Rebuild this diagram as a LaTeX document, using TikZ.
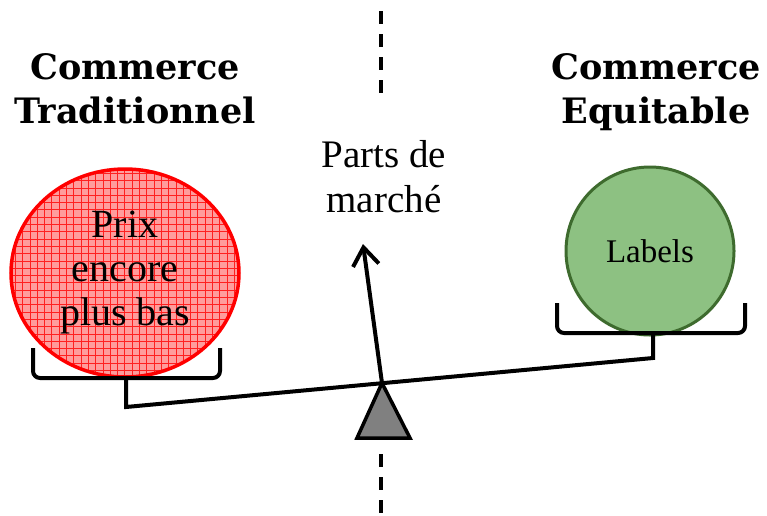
\documentclass[tikz,border=0pt]{standalone}
\usepackage{fontspec}
\newfontfamily\serifT{Liberation Serif}
\newfontfamily\titleT{DejaVu Serif}
\usetikzlibrary{shapes.geometric,arrows.meta}
\definecolor{redfill}{HTML}{FF9C9C}
\definecolor{redgrid}{HTML}{FF2020}
\definecolor{greenfill}{HTML}{8DC182}
\definecolor{greenedge}{HTML}{3E6B2E}
\definecolor{pivotgray}{HTML}{808080}
\begin{document}
\begin{tikzpicture}[x=1pt,y=-1pt,
  title/.style={font=\titleT\bfseries\fontsize{35}{44}\selectfont, align=center, anchor=base, inner sep=0},
  body/.style={font=\serifT\fontsize{40}{44}\selectfont, align=center, inner sep=0},
  beam/.style={line width=4pt, line join=round},
  gridline/.style={redgrid, line width=0.7pt},
  divider/.style={line width=3.3pt, dash pattern=on 13pt off 10pt}]
\useasboundingbox (0,0) rectangle (767,515);

% dashed divider
\coordinate (dt1) at (381,11);
\coordinate (dt2) at (381,95);
\coordinate (db1) at (381,454);
\coordinate (db2) at (381,515);
\draw[divider] (dt1) -- (dt2);
\draw[divider] (db1) -- (db2);

% titles
\node[title] (tl) at (135,123) {Commerce\\Traditionnel};
\node[title] (tr) at (656,123) {Commerce\\Equitable};
\node[body, anchor=base, font=\serifT\fontsize{39}{45}\selectfont] (pm) at (384,212) {Parts de\\marché};

% red ellipse with grid
\coordinate (rc) at (125,273);
\begin{scope}
  \clip (rc) ellipse [x radius=114pt, y radius=104pt];
  \fill[redfill] (0,160) rectangle (250,390);
  \foreach \i in {0,...,33} {
    \draw[gridline] (8+\i*7.3,160) -- (8+\i*7.3,390);
    \draw[gridline] (0,166+\i*7.3) -- (250,166+\i*7.3);
  }
\end{scope}
\node[ellipse, draw=red, line width=3.5pt, minimum width=228, minimum height=208, inner sep=0, body] (red) at (rc) {Prix\\encore\\plus bas};

% green circle
\node[circle, draw=greenedge, fill=greenfill, line width=3pt, minimum size=168, inner sep=0,
  font=\serifT\fontsize{33}{40}\selectfont] (green) at (650,251) {Labels};

% balance
\coordinate (lbl) at (33,348);
\coordinate (lbr) at (220,348);
\coordinate (lbc) at (126,378);
\coordinate (L) at (126,407);
\coordinate (R) at (653,358);
\coordinate (rbc) at (653,333);
\coordinate (rbl) at (557,303);
\coordinate (rbr) at (745,303);
\coordinate (P) at (382,383);
\coordinate (tip) at (363,244);
\coordinate (tb1) at (357,438);
\coordinate (tb2) at (410,438);

\draw[beam, rounded corners=7pt] (lbl) |- (lbc) -| (lbr);
\draw[beam, rounded corners=7pt] (rbl) |- (rbc) -| (rbr);
\draw[beam, line join=miter] (lbc) -- (L) -- (R) -- (rbc);
\draw[beam, -{Straight Barb[length=18pt,width=26pt]}] (P) -- (tip);
\draw[line width=3.5pt, fill=pivotgray, line join=miter] (P) -- (tb1) -- (tb2) -- cycle;
\end{tikzpicture}
\end{document}
